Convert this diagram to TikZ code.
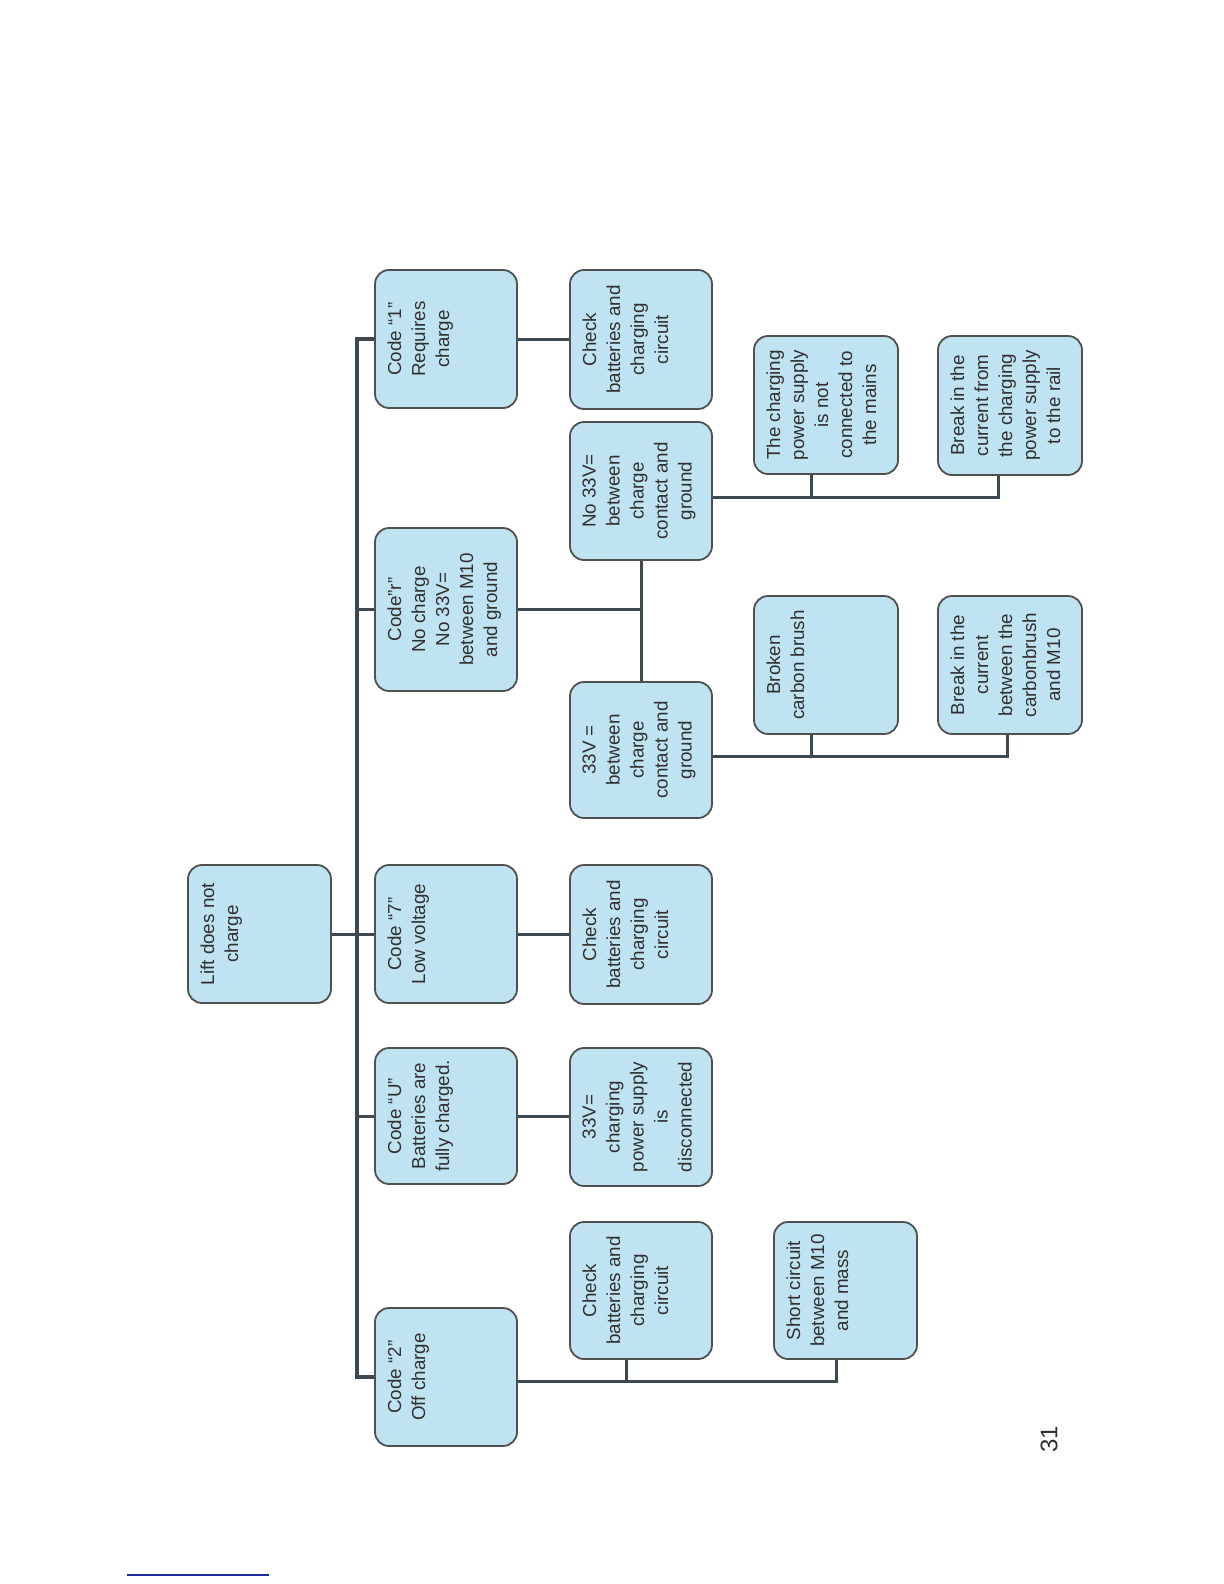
\documentclass[tikz,border=0pt]{standalone}
\usepackage{fontspec}
\setmainfont{Liberation Sans}
\definecolor{boxfill}{HTML}{C0E3F1}
\definecolor{boxline}{HTML}{505050}
\definecolor{linec}{HTML}{3C4852}
\definecolor{txt}{HTML}{303030}
\definecolor{rulec}{HTML}{1A2A9A}
\newcommand\mkbox[6]{%
  \node[boxst, minimum width={(#4-#2)*0.5pt}, minimum height={(#5-#3)*0.5pt}] (#1) at ({(#2+#4)/2},{(#3+#5)/2}) {};
  \node[lblst] (#1t) at ([xshift=6.5pt]#1.west) {#6};
}
\begin{document}
\begin{tikzpicture}[x=0.5pt,y=-0.5pt,
  boxst/.style={draw=boxline, fill=boxfill, line width=0.9pt, rounded corners=7pt, inner sep=0pt},
  lblst/.style={rotate=90, anchor=north, align=center, inner sep=0pt, text=txt,
     font=\fontsize{9.4}{12.0}\selectfont},
  conn/.style={draw=linec, line width=1.5pt},
  busst/.style={draw=linec, line width=2pt}]
\useasboundingbox (0,0) rectangle (1224,1584);

% root
\mkbox{root}{188}{865}{331}{1003}{Lift does not\\charge}
% level 1
\mkbox{c1}{375}{270}{517}{408}{Code “1”\\Requires\\charge}
\mkbox{cr}{375}{528}{517}{691}{Code”r”\\No charge\\No 33V=\\between M10\\and ground}
\mkbox{c7}{375}{865}{517}{1003}{Code “7”\\Low voltage}
\mkbox{cU}{375}{1048}{517}{1184}{Code “U”\\Batteries are\\fully charged.}
\mkbox{c2}{375}{1308}{517}{1446}{Code “2”\\Off charge}
% level 2
\mkbox{k1}{570}{270}{712}{409}{Check\\batteries and\\charging\\circuit}
\mkbox{n33}{570}{422}{712}{560}{No 33V=\\between\\charge\\contact and\\ground}
\mkbox{y33}{570}{682}{712}{818}{33V =\\between\\charge\\contact and\\ground}
\mkbox{k7}{570}{865}{712}{1004}{Check\\batteries and\\charging\\circuit}
\mkbox{s33}{570}{1048}{712}{1186}{33V=\\charging\\power supply\\is\\disconnected}
\mkbox{k2}{570}{1222}{712}{1359}{Check\\batteries and\\charging\\circuit}
% level 3
\mkbox{tcp}{754}{336}{898}{474}{The charging\\power supply\\is not\\connected to\\the mains}
\mkbox{brk1}{938}{336}{1082}{475}{Break in the\\current from\\the charging\\power supply\\to the rail}
\mkbox{bcb}{754}{596}{898}{734}{Broken\\carbon brush}
\mkbox{brk2}{938}{596}{1082}{734}{Break in the\\current\\between the\\carbonbrush\\and M10}
\mkbox{sc}{774}{1222}{917}{1359}{Short circuit\\between M10\\and mass}

% bus
\coordinate (bus) at (357,0);
\draw[busst] (c1.west) -- (c1.west -| bus) -- (c2.west -| bus) -- (c2.west);
\draw[conn] (cr.west) -- (cr.west -| bus);
\draw[conn] (cU.west) -- (cU.west -| bus);
\draw[conn] (root.east) -- (c7.west);

% level 1 -> level 2
\draw[conn] (c1.east) -- (c1.east -| k1.west);
\draw[conn] (c7.east) -- (c7.east -| k7.west);
\draw[conn] (cU.east) -- (cU.east -| s33.west);
\draw[conn] (cr.east) -- (cr.east -| n33.south);
\draw[conn] (n33.south) -- (y33.north);

% n33 branches
\coordinate (j1) at (811,497);
\coordinate (j2) at (998,497);
\draw[conn] (n33.east |- j1) -- (j2) -- (brk1.south -| j2);
\draw[conn] (tcp.south -| j1) -- (j1);
% y33 branches
\coordinate (j3) at (811,756);
\coordinate (j4) at (1007,756);
\draw[conn] (y33.east |- j3) -- (j4) -- (brk2.south -| j4);
\draw[conn] (bcb.south -| j3) -- (j3);
% c2 branches
\coordinate (j5) at (626,1381);
\coordinate (j6) at (836,1381);
\draw[conn] (c2.east |- j5) -- (j6) -- (sc.south -| j6);
\draw[conn] (k2.south -| j5) -- (j5);

% page number and rule
\node[rotate=90, text=txt, font=\fontsize{12}{14}\selectfont] (pg) at (1049,1439) {31};
\coordinate (ra) at (127,1575);
\coordinate (rb) at (269,1575);
\draw[draw=rulec, line width=0.9pt] (ra) -- (rb);
\end{tikzpicture}
\end{document}
